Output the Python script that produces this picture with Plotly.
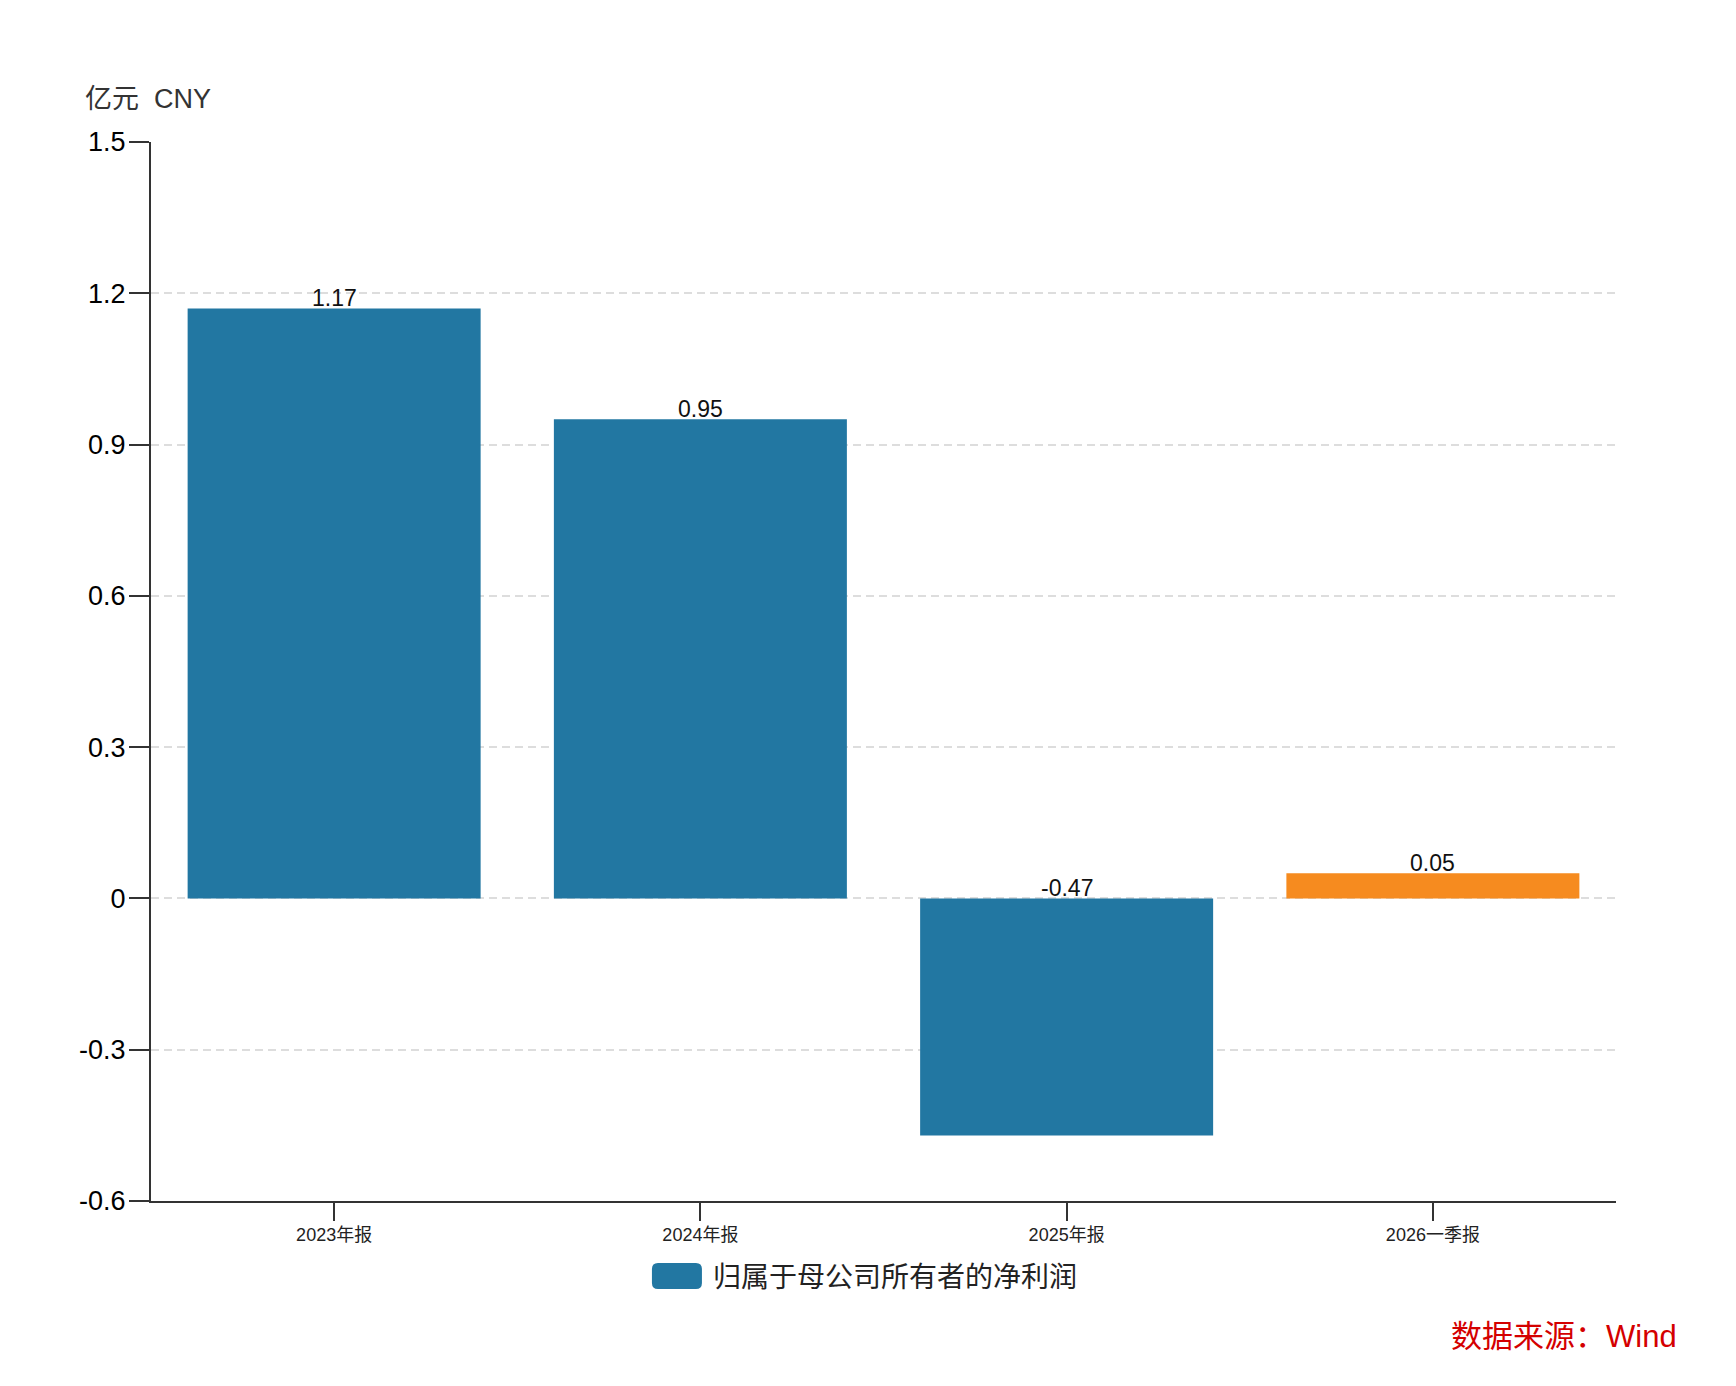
import plotly.graph_objects as go

categories = ["2023年报", "2024年报", "2025年报", "2026一季报"]
values = [1.17, 0.95, -0.47, 0.05]
bar_colors = ["#2277a2", "#2277a2", "#2277a2", "#f68b1f"]
y_tickvals = [-0.6, -0.3, 0, 0.3, 0.6, 0.9, 1.2, 1.5]
y_ticktext = ["-0.6", "-0.3", "0", "0.3", "0.6", "0.9", "1.2", "1.5"]
series_name = "归属于母公司所有者的净利润"
unit_label = "亿元  CNY"
source_label = "数据来源：Wind"

FONT = "Liberation Sans, Arial, Noto Sans CJK SC, sans-serif"

fig = go.Figure()
fig.add_trace(go.Bar(
    x=categories, y=values, marker=dict(color=bar_colors, line=dict(width=0)),
    name=series_name, showlegend=False,
))

for c, v in zip(categories, values):
    fig.add_annotation(
        x=c, y=max(v, 0), text=f"{v:.2f}", showarrow=False,
        yanchor="bottom", yshift=-5, xref="x", yref="y",
        font=dict(size=23, color="#111", family=FONT),
    )

# unit label
fig.add_annotation(
    x=-0.0465, y=1.0406, xref="paper", yref="paper", text=unit_label,
    showarrow=False, xanchor="left", yanchor="middle",
    font=dict(size=27, color="#333", family=FONT),
)
# legend swatch
r = 6
w, h = 25, 13
path = (f"M {-w + r},{-h} L {w - r},{-h} Q {w},{-h} {w},{-h + r} L {w},{h - r} Q {w},{h} {w - r},{h} "
        f"L {-w + r},{h} Q {-w},{h} {-w},{h - r} L {-w},{-h + r} Q {-w},{-h} {-w + r},{-h} Z")
fig.add_shape(
    type="path", xref="paper", yref="paper", xsizemode="pixel", ysizemode="pixel",
    xanchor=0.359, yanchor=-0.0708, path=path,
    fillcolor=bar_colors[0], line=dict(width=0),
)
fig.add_annotation(
    x=0.382, y=-0.0725, xref="paper", yref="paper", text=series_name,
    showarrow=False, xanchor="left", yanchor="middle",
    font=dict(size=28, color="#222", family=FONT),
)
# source
fig.add_annotation(
    x=1.043, y=-0.1284, xref="paper", yref="paper", text=source_label,
    showarrow=False, xanchor="right", yanchor="middle",
    font=dict(size=31, color="#d40000", family=FONT),
)

fig.update_layout(
    width=1736, height=1386,
    margin=dict(l=151, r=120, t=142, b=185),
    paper_bgcolor="white", plot_bgcolor="white",
    bargap=0.2,
    font=dict(family=FONT, color="#222"),
    xaxis=dict(
        type="category", showline=True, linecolor="#333", linewidth=2,
        ticks="outside", ticklen=18, tickwidth=2, tickcolor="#333",
        tickfont=dict(size=18, color="#222"), showgrid=False,
        ticklabelstandoff=-2,
    ),
    yaxis=dict(
        range=[-0.6, 1.5], tickvals=y_tickvals, ticktext=y_ticktext,
        showline=True, linecolor="#333", linewidth=2,
        ticks="outside", ticklen=20, tickwidth=2, tickcolor="#333",
        tickfont=dict(size=27, color="#000"), ticklabelstandoff=-2,
        showgrid=True, gridcolor="#dddddd", gridwidth=1.5, griddash="8px,5px",
        zeroline=False,
    ),
)

fig.write_html("out.html")
